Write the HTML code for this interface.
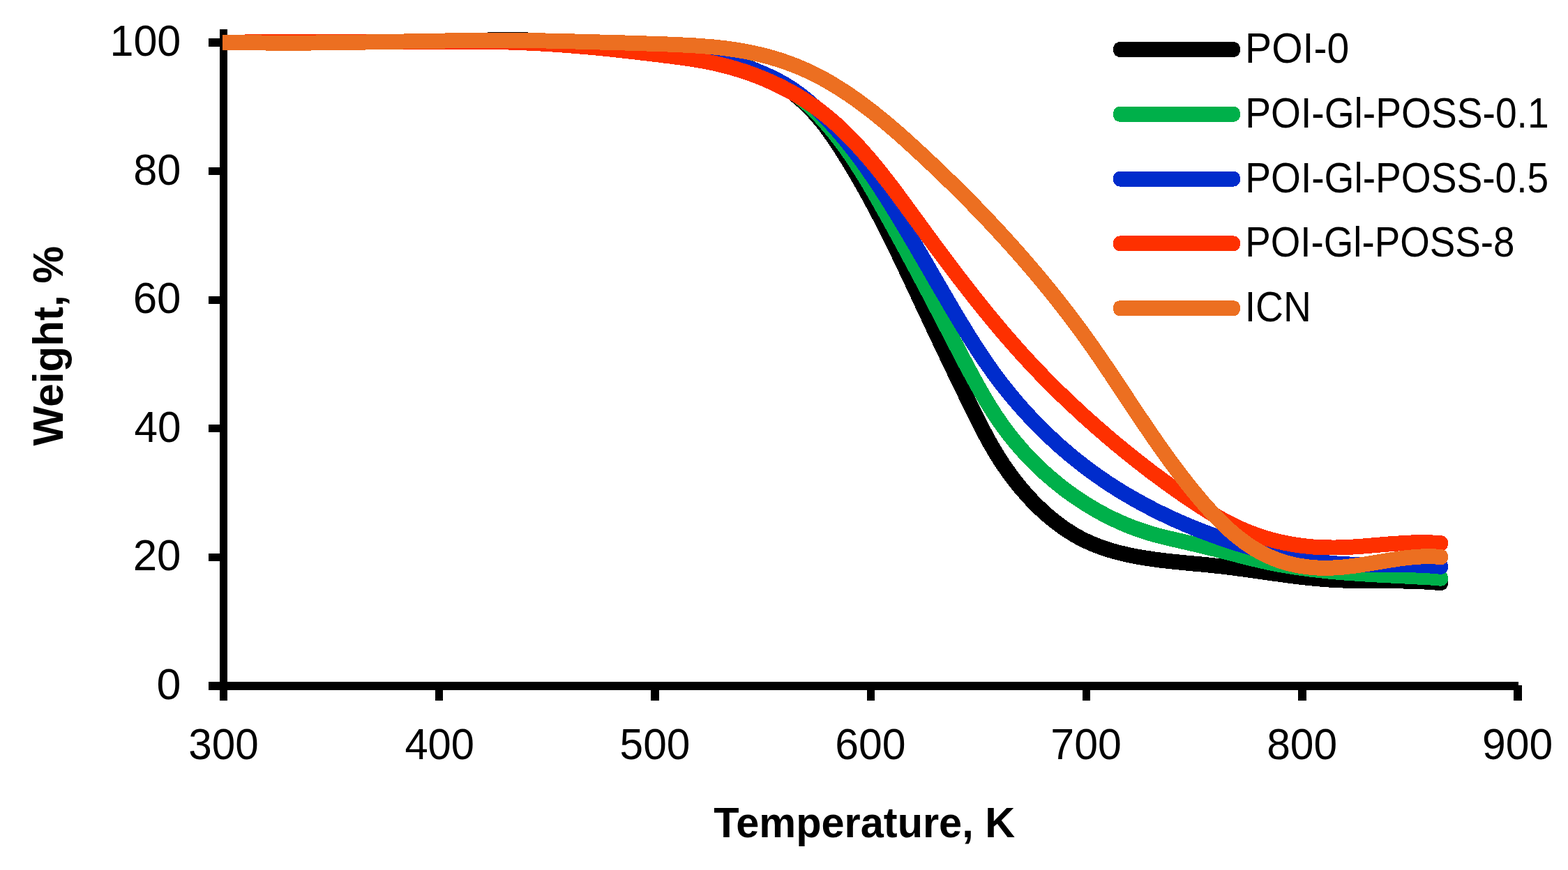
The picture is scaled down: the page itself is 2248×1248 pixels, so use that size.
<!DOCTYPE html>
<html lang="en">
<head>
<meta charset="utf-8">
<title>TGA curves</title>
<style>
html,body{margin:0;padding:0;background:#fff;}
body{width:2248px;height:1248px;overflow:hidden;}
figure{margin:0;padding:0;width:2248px;height:1248px;}
svg{display:block;}
</style>
</head>
<body>
<figure>
<svg width="2248" height="1248" viewBox="0 0 2248 1248" font-family="'Liberation Sans', sans-serif" fill="#000">
<rect width="2248" height="1248" fill="#fff"/>
<g shape-rendering="crispEdges" fill="#000">
<rect x="315" y="42" width="11" height="963"/>
<rect x="299" y="978" width="1878" height="12"/>
<rect x="299" y="794" width="21" height="11"/>
<rect x="299" y="609" width="21" height="11"/>
<rect x="299" y="425" width="21" height="11"/>
<rect x="299" y="240" width="21" height="11"/>
<rect x="299" y="55" width="21" height="12"/>
<rect x="624" y="983" width="11" height="22"/>
<rect x="933" y="983" width="12" height="22"/>
<rect x="1243" y="983" width="11" height="22"/>
<rect x="1552" y="983" width="11" height="22"/>
<rect x="1861" y="983" width="12" height="22"/>
<rect x="2170" y="983" width="12" height="22"/>
</g>
<defs><clipPath id="plot"><rect x="319" y="0" width="1929" height="984"/></clipPath></defs>
<g clip-path="url(#plot)" shape-rendering="crispEdges">
<path fill="none" stroke="#000000" stroke-width="22" stroke-linejoin="round" d="M316.0 61.0 L320.5 61.0 L332.5 60.8 L344.5 60.8 L356.5 60.8 L368.5 60.9 L380.5 60.9 L392.5 60.9 L404.5 60.9 L416.5 60.8 L428.5 60.8 L440.5 60.8 L452.5 60.7 L464.5 60.7 L476.5 60.6 L488.5 60.6 L500.5 60.5 L512.5 60.4 L524.5 60.3 L536.5 60.2 L548.5 60.1 L560.5 60.0 L572.5 59.9 L584.5 59.7 L596.5 59.6 L608.5 59.5 L620.5 59.3 L632.5 59.2 L644.5 59.1 L656.5 59.0 L668.5 59.0 L680.5 58.9 L692.5 58.2 L704.5 57.0 L716.5 56.9 L728.5 56.9 L740.5 57.0 L752.5 57.1 L764.5 58.5 L776.5 60.5 L788.5 61.0 L800.5 61.5 L812.5 62.1 L824.5 62.7 L836.5 63.4 L848.5 64.1 L860.5 64.8 L872.5 65.6 L884.5 66.4 L896.5 67.2 L908.5 68.1 L920.5 69.0 L932.5 69.9 L944.5 70.8 L956.5 71.8 L968.5 72.8 L980.5 73.9 L986.1 74.9 L992.1 75.8 L998.1 76.7 L1004.1 77.7 L1010.0 78.8 L1016.0 80.0 L1021.9 81.2 L1027.8 82.6 L1033.7 84.0 L1039.6 85.5 L1045.4 87.2 L1051.2 88.9 L1056.9 90.7 L1062.6 92.7 L1068.3 94.8 L1073.9 97.0 L1079.4 99.3 L1084.9 101.7 L1090.3 104.3 L1095.6 107.0 L1100.9 109.7 L1106.1 112.7 L1111.2 115.7 L1116.3 118.8 L1121.3 122.1 L1126.2 125.5 L1131.0 129.0 L1135.8 132.6 L1140.4 136.3 L1145.0 140.1 L1149.5 144.0 L1153.8 148.0 L1158.1 152.2 L1162.3 156.4 L1166.4 160.7 L1170.4 165.2 L1174.3 169.7 L1178.1 174.3 L1181.9 179.0 L1185.5 183.8 L1189.0 188.7 L1192.5 193.6 L1195.9 198.6 L1199.3 203.6 L1202.6 208.6 L1205.9 213.7 L1209.1 218.8 L1212.3 223.9 L1215.5 229.0 L1218.6 234.1 L1221.7 239.2 L1224.8 244.4 L1227.8 249.6 L1230.8 254.7 L1233.8 259.9 L1236.8 265.1 L1239.7 270.4 L1242.6 275.6 L1245.5 280.8 L1248.4 286.1 L1251.2 291.4 L1254.0 296.6 L1256.8 301.9 L1259.6 307.2 L1262.4 312.5 L1265.1 317.9 L1267.8 323.2 L1270.5 328.5 L1273.2 333.9 L1275.9 339.2 L1278.5 344.6 L1281.2 350.0 L1283.8 355.3 L1286.5 360.7 L1289.1 366.1 L1291.7 371.5 L1294.3 376.9 L1296.8 382.3 L1299.4 387.7 L1302.0 393.2 L1304.6 398.6 L1307.1 404.0 L1309.7 409.4 L1312.2 414.9 L1314.8 420.3 L1317.3 425.8 L1319.9 431.2 L1322.4 436.7 L1325.0 442.1 L1327.5 447.6 L1330.1 453.0 L1332.7 458.5 L1335.2 464.0 L1337.8 469.4 L1340.4 474.9 L1343.0 480.3 L1345.5 485.8 L1348.1 491.2 L1350.7 496.7 L1353.3 502.2 L1355.9 507.6 L1358.5 513.0 L1361.1 518.5 L1363.7 523.9 L1366.3 529.3 L1368.9 534.8 L1371.5 540.2 L1374.1 545.6 L1376.7 551.0 L1379.4 556.4 L1382.0 561.7 L1384.6 567.1 L1387.2 572.5 L1389.8 577.8 L1392.4 583.2 L1395.0 588.5 L1397.7 593.8 L1400.3 599.1 L1402.9 604.4 L1405.6 609.6 L1408.3 614.9 L1411.0 620.1 L1413.7 625.3 L1416.5 630.5 L1419.4 635.7 L1422.4 640.9 L1425.4 646.0 L1428.5 651.2 L1431.6 656.3 L1434.9 661.3 L1438.2 666.4 L1441.7 671.4 L1445.2 676.4 L1448.7 681.3 L1452.4 686.2 L1456.1 691.0 L1459.9 695.8 L1463.8 700.5 L1467.8 705.1 L1471.8 709.7 L1475.9 714.2 L1480.1 718.7 L1484.4 723.0 L1488.7 727.3 L1493.1 731.5 L1497.5 735.6 L1502.1 739.6 L1506.7 743.5 L1511.3 747.2 L1516.1 750.9 L1520.9 754.5 L1525.7 757.9 L1530.7 761.2 L1535.7 764.4 L1540.7 767.5 L1545.9 770.4 L1551.0 773.1 L1556.3 775.7 L1561.6 778.2 L1566.9 780.5 L1572.4 782.7 L1577.8 784.7 L1583.3 786.7 L1588.9 788.5 L1594.5 790.2 L1600.2 791.8 L1605.9 793.2 L1611.6 794.6 L1617.4 795.9 L1623.2 797.1 L1629.0 798.3 L1634.9 799.3 L1640.8 800.3 L1646.7 801.2 L1652.7 802.1 L1658.6 802.9 L1664.6 803.7 L1670.6 804.4 L1676.7 805.1 L1682.7 805.7 L1688.8 806.3 L1694.8 806.9 L1700.9 807.5 L1707.0 808.1 L1713.0 808.7 L1719.1 809.2 L1725.2 809.8 L1731.3 810.4 L1737.3 811.0 L1743.4 811.7 L1749.4 812.3 L1755.5 813.0 L1761.5 813.8 L1767.5 814.5 L1773.5 815.3 L1779.5 816.1 L1785.5 816.9 L1791.5 817.7 L1797.4 818.6 L1803.4 819.4 L1809.4 820.3 L1815.3 821.1 L1821.2 822.0 L1827.2 822.8 L1833.1 823.6 L1839.0 824.4 L1844.9 825.2 L1850.9 826.0 L1856.8 826.8 L1862.7 827.5 L1868.6 828.2 L1874.5 828.8 L1880.4 829.4 L1886.3 830.0 L1892.2 830.5 L1898.1 831.0 L1904.1 831.4 L1910.0 831.8 L1915.9 832.1 L1921.8 832.4 L1927.7 832.6 L1933.7 832.8 L1939.6 832.9 L1945.6 833.0 L1951.5 833.1 L1957.5 833.1 L1963.4 833.2 L1969.4 833.2 L1975.4 833.2 L1981.4 833.2 L1987.4 833.3 L1993.4 833.3 L1999.4 833.3 L2005.5 833.4 L2011.5 833.5 L2017.6 833.6 L2023.6 833.8 L2029.7 834.0 L2035.8 834.2 L2041.9 834.5 L2048.1 834.8 L2054.2 835.3 L2060.4 835.7 L2065.0 836.0"/>
<rect fill="#000000" x="2054.0" y="825.0" width="22" height="22" rx="9.5"/>
<path fill="none" stroke="#00B04A" stroke-width="22" stroke-linejoin="round" d="M316.0 61.0 L320.5 61.0 L332.5 60.8 L344.5 60.8 L356.5 60.8 L368.5 60.9 L380.5 60.9 L392.5 60.9 L404.5 60.9 L416.5 60.8 L428.5 60.8 L440.5 60.8 L452.5 60.7 L464.5 60.7 L476.5 60.6 L488.5 60.6 L500.5 60.5 L512.5 60.4 L524.5 60.3 L536.5 60.2 L548.5 60.1 L560.5 60.0 L572.5 59.9 L584.5 59.7 L596.5 59.6 L608.5 59.5 L620.5 59.3 L632.5 59.2 L644.5 59.1 L656.5 59.0 L668.5 59.0 L680.5 58.9 L692.5 58.9 L704.5 59.0 L716.5 59.1 L728.5 59.2 L740.5 59.4 L752.5 59.7 L764.5 60.1 L776.5 60.5 L788.5 61.0 L800.5 61.5 L812.5 62.1 L824.5 62.7 L836.5 63.4 L848.5 64.1 L860.5 64.8 L872.5 65.6 L884.5 66.4 L896.5 67.2 L908.5 68.1 L920.5 69.0 L932.5 69.9 L944.5 70.8 L956.5 71.8 L968.5 72.8 L980.5 73.9 L986.7 75.2 L992.8 76.1 L998.8 77.1 L1004.8 78.1 L1010.8 79.3 L1016.7 80.5 L1022.6 81.8 L1028.5 83.2 L1034.4 84.6 L1040.2 86.2 L1046.0 87.8 L1051.7 89.5 L1057.4 91.3 L1063.0 93.2 L1068.5 95.3 L1074.1 97.4 L1079.5 99.6 L1084.9 101.9 L1090.3 104.3 L1095.6 106.8 L1100.8 109.4 L1106.0 112.2 L1111.1 115.1 L1116.2 118.0 L1121.2 121.2 L1126.2 124.4 L1131.1 127.7 L1135.9 131.2 L1140.7 134.8 L1145.4 138.6 L1150.0 142.5 L1154.6 146.4 L1159.1 150.5 L1163.5 154.7 L1167.9 159.0 L1172.2 163.4 L1176.4 167.8 L1180.5 172.4 L1184.6 177.0 L1188.6 181.6 L1192.6 186.3 L1196.5 191.0 L1200.2 195.8 L1204.0 200.6 L1207.6 205.4 L1211.2 210.3 L1214.7 215.2 L1218.1 220.1 L1221.5 225.0 L1224.8 229.9 L1228.0 234.8 L1231.2 239.8 L1234.4 244.8 L1237.5 249.8 L1240.6 254.8 L1243.6 259.8 L1246.6 264.9 L1249.6 270.0 L1252.6 275.0 L1255.5 280.1 L1258.4 285.3 L1261.3 290.4 L1264.2 295.5 L1267.1 300.7 L1270.0 305.9 L1272.9 311.0 L1275.8 316.2 L1278.7 321.5 L1281.5 326.7 L1284.4 331.9 L1287.3 337.2 L1290.1 342.4 L1293.0 347.7 L1295.9 353.0 L1298.7 358.2 L1301.6 363.5 L1304.4 368.9 L1307.3 374.2 L1310.1 379.5 L1313.0 384.8 L1315.8 390.2 L1318.6 395.5 L1321.5 400.9 L1324.3 406.2 L1327.1 411.6 L1330.0 417.0 L1332.8 422.3 L1335.6 427.7 L1338.4 433.1 L1341.2 438.5 L1344.0 443.9 L1346.8 449.3 L1349.6 454.7 L1352.4 460.1 L1355.2 465.5 L1358.0 470.9 L1360.8 476.3 L1363.6 481.7 L1366.4 487.1 L1369.2 492.5 L1372.0 497.9 L1374.8 503.3 L1377.6 508.7 L1380.4 514.0 L1383.2 519.4 L1386.0 524.7 L1388.9 530.0 L1391.7 535.3 L1394.6 540.5 L1397.4 545.8 L1400.3 551.0 L1403.2 556.2 L1406.1 561.4 L1409.1 566.6 L1412.1 571.7 L1415.1 576.8 L1418.2 581.8 L1421.4 586.9 L1424.5 591.8 L1427.8 596.8 L1431.1 601.7 L1434.4 606.6 L1437.9 611.4 L1441.4 616.2 L1445.0 621.0 L1448.6 625.7 L1452.3 630.3 L1456.1 635.0 L1460.0 639.5 L1463.9 644.0 L1467.9 648.5 L1472.0 652.9 L1476.1 657.3 L1480.3 661.6 L1484.6 665.8 L1488.9 670.0 L1493.3 674.1 L1497.7 678.2 L1502.2 682.2 L1506.8 686.1 L1511.4 690.0 L1516.0 693.8 L1520.7 697.6 L1525.5 701.3 L1530.3 704.9 L1535.2 708.4 L1540.1 711.9 L1545.0 715.3 L1550.0 718.6 L1555.1 721.9 L1560.2 725.0 L1565.3 728.1 L1570.5 731.2 L1575.7 734.1 L1580.9 737.0 L1586.2 739.7 L1591.6 742.4 L1596.9 745.0 L1602.3 747.5 L1607.8 750.0 L1613.2 752.3 L1618.7 754.6 L1624.2 756.7 L1629.8 758.8 L1635.4 760.7 L1641.0 762.6 L1646.6 764.4 L1652.3 766.1 L1658.0 767.7 L1663.7 769.2 L1669.4 770.6 L1675.1 772.0 L1680.9 773.4 L1686.7 774.7 L1692.4 776.0 L1698.3 777.4 L1704.1 778.7 L1709.9 780.1 L1715.8 781.4 L1721.6 782.8 L1727.5 784.2 L1733.4 785.7 L1739.3 787.1 L1745.2 788.6 L1751.1 790.1 L1757.0 791.6 L1763.0 793.2 L1768.9 794.7 L1774.8 796.2 L1780.7 797.8 L1786.7 799.3 L1792.6 800.8 L1798.5 802.2 L1804.5 803.6 L1810.4 805.0 L1816.3 806.3 L1822.2 807.5 L1828.2 808.7 L1834.1 809.8 L1840.0 810.9 L1845.9 811.9 L1851.8 812.8 L1857.7 813.8 L1863.6 814.6 L1869.5 815.4 L1875.4 816.2 L1881.3 817.0 L1887.2 817.6 L1893.1 818.3 L1899.0 818.9 L1904.9 819.5 L1910.9 820.1 L1916.8 820.6 L1922.7 821.1 L1928.6 821.6 L1934.5 822.0 L1940.5 822.4 L1946.4 822.8 L1952.3 823.2 L1958.3 823.6 L1964.2 823.9 L1970.2 824.3 L1976.2 824.6 L1982.1 824.9 L1988.1 825.2 L1994.1 825.5 L2000.1 825.8 L2006.1 826.1 L2012.1 826.4 L2018.2 826.7 L2024.2 827.0 L2030.2 827.4 L2036.3 827.7 L2042.4 828.0 L2048.4 828.3 L2054.5 828.7 L2060.6 829.1 L2065.0 829.6"/>
<rect fill="#00B04A" x="2054.0" y="818.6" width="22" height="22" rx="9.5"/>
<path fill="none" stroke="#002CCC" stroke-width="22" stroke-linejoin="round" d="M316.0 61.0 L320.5 61.0 L332.5 60.8 L344.5 60.8 L356.5 60.8 L368.5 60.9 L380.5 60.9 L392.5 60.9 L404.5 60.9 L416.5 60.8 L428.5 60.8 L440.5 60.8 L452.5 60.7 L464.5 60.7 L476.5 60.6 L488.5 60.6 L500.5 60.5 L512.5 60.4 L524.5 60.3 L536.5 60.2 L548.5 60.1 L560.5 60.0 L572.5 59.9 L584.5 59.7 L596.5 59.6 L608.5 59.5 L620.5 59.3 L632.5 59.2 L644.5 59.1 L656.5 59.0 L668.5 59.0 L680.5 58.9 L692.5 58.9 L704.5 59.0 L716.5 59.1 L728.5 59.2 L740.5 59.4 L752.5 59.7 L764.5 60.1 L776.5 60.5 L788.5 61.0 L800.5 61.5 L812.5 62.1 L824.5 62.7 L836.5 63.4 L848.5 64.1 L860.5 64.8 L872.5 65.6 L884.5 66.4 L896.5 67.2 L908.5 68.1 L920.5 69.0 L932.5 69.9 L944.5 70.8 L956.5 71.8 L968.5 72.8 L980.5 73.9 L986.2 76.1 L992.2 77.1 L998.2 78.2 L1004.1 79.4 L1010.1 80.6 L1016.0 81.8 L1021.9 83.1 L1027.8 84.4 L1033.6 85.8 L1039.4 87.3 L1045.2 88.8 L1051.0 90.4 L1056.7 92.1 L1062.4 93.9 L1068.1 95.7 L1073.7 97.6 L1079.3 99.6 L1084.8 101.7 L1090.3 103.9 L1095.7 106.2 L1101.1 108.6 L1106.4 111.1 L1111.7 113.7 L1116.9 116.5 L1122.1 119.3 L1127.2 122.3 L1132.2 125.5 L1137.1 128.7 L1142.0 132.1 L1146.8 135.6 L1151.6 139.3 L1156.3 143.1 L1160.9 147.0 L1165.4 150.9 L1169.9 155.0 L1174.3 159.2 L1178.7 163.5 L1183.0 167.8 L1187.2 172.2 L1191.3 176.6 L1195.4 181.1 L1199.5 185.7 L1203.4 190.2 L1207.4 194.8 L1211.2 199.5 L1215.0 204.1 L1218.8 208.8 L1222.5 213.5 L1226.2 218.3 L1229.8 223.1 L1233.4 227.9 L1236.9 232.7 L1240.4 237.5 L1243.8 242.4 L1247.2 247.3 L1250.6 252.2 L1254.0 257.2 L1257.3 262.1 L1260.6 267.1 L1263.8 272.1 L1267.0 277.1 L1270.3 282.2 L1273.5 287.2 L1276.6 292.3 L1279.8 297.4 L1282.9 302.5 L1286.1 307.6 L1289.2 312.7 L1292.3 317.9 L1295.4 323.0 L1298.5 328.2 L1301.5 333.4 L1304.6 338.6 L1307.6 343.7 L1310.7 348.9 L1313.7 354.1 L1316.8 359.4 L1319.8 364.6 L1322.8 369.8 L1325.8 375.0 L1328.9 380.2 L1331.9 385.4 L1334.9 390.7 L1337.9 395.9 L1340.9 401.1 L1344.0 406.3 L1347.0 411.5 L1350.0 416.7 L1353.0 421.9 L1356.1 427.1 L1359.1 432.3 L1362.1 437.5 L1365.2 442.7 L1368.2 447.8 L1371.3 453.0 L1374.4 458.1 L1377.5 463.2 L1380.6 468.3 L1383.7 473.4 L1386.8 478.5 L1389.9 483.6 L1393.1 488.6 L1396.3 493.7 L1399.5 498.7 L1402.8 503.7 L1406.1 508.6 L1409.4 513.6 L1412.7 518.5 L1416.1 523.4 L1419.6 528.3 L1423.0 533.2 L1426.6 538.0 L1430.1 542.8 L1433.7 547.6 L1437.4 552.3 L1441.1 557.0 L1444.9 561.7 L1448.7 566.4 L1452.5 571.0 L1456.4 575.6 L1460.3 580.2 L1464.3 584.7 L1468.3 589.2 L1472.4 593.6 L1476.5 598.1 L1480.6 602.4 L1484.8 606.8 L1489.0 611.1 L1493.2 615.4 L1497.5 619.6 L1501.9 623.8 L1506.3 627.9 L1510.7 632.0 L1515.1 636.1 L1519.6 640.1 L1524.1 644.1 L1528.7 648.0 L1533.3 651.9 L1537.9 655.7 L1542.6 659.5 L1547.3 663.2 L1552.0 666.9 L1556.7 670.6 L1561.5 674.2 L1566.4 677.7 L1571.2 681.2 L1576.1 684.6 L1581.0 688.0 L1586.0 691.4 L1591.0 694.7 L1596.0 697.9 L1601.0 701.1 L1606.1 704.3 L1611.2 707.4 L1616.3 710.4 L1621.5 713.4 L1626.7 716.4 L1631.9 719.3 L1637.1 722.2 L1642.4 725.0 L1647.7 727.8 L1653.0 730.6 L1658.3 733.3 L1663.7 735.9 L1669.1 738.5 L1674.5 741.1 L1679.9 743.6 L1685.3 746.1 L1690.8 748.5 L1696.3 750.9 L1701.8 753.3 L1707.4 755.6 L1712.9 757.9 L1718.5 760.1 L1724.1 762.3 L1729.7 764.4 L1735.3 766.5 L1741.0 768.6 L1746.6 770.6 L1752.3 772.6 L1758.0 774.6 L1763.7 776.5 L1769.5 778.4 L1775.2 780.2 L1781.0 782.0 L1786.8 783.7 L1792.5 785.4 L1798.3 787.0 L1804.2 788.6 L1810.0 790.2 L1815.8 791.7 L1821.7 793.1 L1827.5 794.5 L1833.4 795.8 L1839.3 797.1 L1845.2 798.3 L1851.1 799.5 L1857.0 800.6 L1862.9 801.7 L1868.8 802.7 L1874.8 803.6 L1880.7 804.5 L1886.7 805.3 L1892.6 806.1 L1898.6 806.8 L1904.5 807.4 L1910.5 808.0 L1916.5 808.5 L1922.5 808.9 L1928.4 809.2 L1934.4 809.5 L1940.4 809.7 L1946.4 809.9 L1952.4 810.0 L1958.4 810.1 L1964.4 810.1 L1970.4 810.1 L1976.4 810.1 L1982.4 810.1 L1988.3 810.1 L1994.3 810.1 L2000.3 810.1 L2006.3 810.1 L2012.3 810.1 L2018.3 810.2 L2024.2 810.3 L2030.2 810.5 L2036.2 810.7 L2042.2 811.0 L2048.1 811.3 L2054.1 811.8 L2060.0 812.3 L2065.0 812.8"/>
<rect fill="#002CCC" x="2054.0" y="801.8" width="22" height="22" rx="9.5"/>
<path fill="none" stroke="#FE3000" stroke-width="22" stroke-linejoin="round" d="M316.0 61.0 L320.5 61.0 L327.2 60.8 L333.1 60.8 L338.9 60.7 L344.8 60.6 L350.7 60.5 L356.6 60.4 L362.5 60.4 L368.4 60.3 L374.3 60.3 L380.2 60.2 L386.1 60.2 L392.1 60.1 L398.0 60.1 L403.9 60.1 L409.9 60.1 L415.8 60.0 L421.8 60.0 L427.7 60.0 L433.7 60.0 L439.6 60.0 L445.6 60.0 L451.6 60.0 L457.6 60.0 L463.5 60.0 L469.5 60.0 L475.5 60.0 L481.5 60.0 L487.5 60.0 L493.5 60.1 L499.5 60.1 L505.5 60.1 L511.5 60.1 L517.5 60.1 L523.6 60.1 L529.6 60.1 L535.6 60.1 L541.6 60.1 L547.6 60.1 L553.7 60.1 L559.7 60.1 L565.7 60.1 L571.8 60.1 L577.8 60.1 L583.8 60.1 L589.9 60.1 L595.9 60.1 L602.0 60.0 L608.0 60.0 L614.0 60.0 L620.1 59.9 L626.1 59.9 L632.2 59.9 L638.2 59.9 L644.3 59.8 L650.3 59.8 L656.4 59.8 L662.4 59.8 L668.5 59.8 L674.5 59.8 L680.6 59.8 L686.6 59.9 L692.6 59.9 L698.7 60.0 L704.7 60.0 L710.8 60.1 L716.8 60.3 L722.9 60.4 L728.9 60.5 L734.9 60.7 L741.0 60.9 L747.0 61.2 L753.0 61.4 L759.1 61.7 L765.1 62.0 L771.1 62.3 L777.1 62.6 L783.2 63.0 L789.2 63.3 L795.2 63.7 L801.2 64.1 L807.2 64.6 L813.2 65.0 L819.2 65.5 L825.2 66.0 L831.2 66.5 L837.2 67.0 L843.2 67.5 L849.2 68.1 L855.2 68.6 L861.2 69.2 L867.2 69.8 L873.1 70.4 L879.1 71.0 L885.1 71.7 L891.0 72.3 L897.0 73.0 L902.9 73.6 L908.9 74.3 L914.8 75.0 L920.7 75.7 L926.7 76.4 L932.6 77.1 L938.5 77.8 L944.4 78.5 L950.3 79.3 L956.2 80.0 L962.1 80.7 L968.0 81.5 L973.9 82.3 L979.8 83.1 L985.6 83.9 L991.5 84.8 L997.3 85.7 L1003.2 86.7 L1009.0 87.7 L1014.9 88.8 L1020.7 90.0 L1026.5 91.3 L1032.3 92.7 L1038.1 94.1 L1043.9 95.6 L1049.6 97.2 L1055.4 98.9 L1061.1 100.7 L1066.8 102.5 L1072.4 104.4 L1078.1 106.4 L1083.7 108.5 L1089.2 110.7 L1094.8 112.9 L1100.3 115.3 L1105.8 117.7 L1111.2 120.2 L1116.6 122.8 L1121.9 125.4 L1127.2 128.2 L1132.5 131.0 L1137.7 133.9 L1142.8 136.9 L1147.9 140.0 L1152.9 143.1 L1157.9 146.4 L1162.8 149.7 L1167.7 153.1 L1172.5 156.6 L1177.2 160.2 L1181.9 163.9 L1186.5 167.6 L1191.1 171.5 L1195.6 175.4 L1200.0 179.3 L1204.4 183.4 L1208.7 187.5 L1213.0 191.7 L1217.2 195.9 L1221.4 200.2 L1225.6 204.5 L1229.7 208.9 L1233.7 213.4 L1237.7 217.9 L1241.7 222.4 L1245.7 227.0 L1249.6 231.6 L1253.4 236.3 L1257.3 241.0 L1261.1 245.7 L1264.9 250.5 L1268.6 255.3 L1272.4 260.1 L1276.1 264.9 L1279.8 269.8 L1283.4 274.7 L1287.1 279.5 L1290.7 284.5 L1294.3 289.4 L1297.9 294.3 L1301.5 299.2 L1305.1 304.1 L1308.7 309.1 L1312.3 314.0 L1315.9 318.9 L1319.4 323.8 L1323.0 328.7 L1326.6 333.6 L1330.2 338.5 L1333.7 343.4 L1337.3 348.2 L1340.9 353.1 L1344.5 357.9 L1348.0 362.8 L1351.6 367.6 L1355.2 372.4 L1358.8 377.2 L1362.4 382.0 L1366.0 386.7 L1369.6 391.5 L1373.3 396.3 L1376.9 401.0 L1380.5 405.7 L1384.2 410.4 L1387.8 415.1 L1391.5 419.8 L1395.2 424.5 L1398.9 429.2 L1402.6 433.8 L1406.3 438.5 L1410.0 443.1 L1413.7 447.7 L1417.5 452.3 L1421.3 456.9 L1425.1 461.5 L1428.9 466.0 L1432.7 470.6 L1436.5 475.1 L1440.4 479.6 L1444.2 484.1 L1448.1 488.6 L1452.0 493.0 L1456.0 497.5 L1459.9 501.9 L1463.9 506.4 L1467.9 510.8 L1471.9 515.1 L1475.9 519.5 L1480.0 523.9 L1484.1 528.2 L1488.2 532.5 L1492.3 536.8 L1496.5 541.1 L1500.7 545.4 L1504.9 549.7 L1509.1 553.9 L1513.4 558.1 L1517.7 562.3 L1522.0 566.5 L1526.3 570.7 L1530.6 574.8 L1535.0 578.9 L1539.4 583.0 L1543.8 587.1 L1548.2 591.2 L1552.6 595.3 L1557.0 599.3 L1561.5 603.3 L1566.0 607.3 L1570.5 611.3 L1575.0 615.2 L1579.5 619.1 L1584.0 623.1 L1588.6 627.0 L1593.1 630.8 L1597.7 634.7 L1602.3 638.5 L1606.9 642.3 L1611.6 646.1 L1616.2 649.9 L1620.9 653.7 L1625.6 657.4 L1630.3 661.1 L1635.0 664.8 L1639.7 668.5 L1644.5 672.1 L1649.2 675.8 L1654.0 679.4 L1658.9 683.0 L1663.7 686.6 L1668.6 690.2 L1673.5 693.7 L1678.4 697.2 L1683.3 700.8 L1688.3 704.2 L1693.2 707.7 L1698.2 711.2 L1703.3 714.6 L1708.3 718.0 L1713.4 721.4 L1718.5 724.8 L1723.7 728.1 L1728.8 731.3 L1734.0 734.6 L1739.2 737.7 L1744.5 740.8 L1749.7 743.8 L1755.0 746.7 L1760.4 749.6 L1765.7 752.3 L1771.1 755.0 L1776.6 757.5 L1782.0 759.9 L1787.5 762.2 L1793.0 764.4 L1798.6 766.5 L1804.2 768.5 L1809.8 770.4 L1815.4 772.1 L1821.1 773.8 L1826.7 775.3 L1832.4 776.7 L1838.2 778.0 L1843.9 779.2 L1849.7 780.3 L1855.5 781.3 L1861.3 782.2 L1867.2 782.9 L1873.0 783.6 L1878.9 784.2 L1884.8 784.7 L1890.7 785.0 L1896.7 785.3 L1902.6 785.4 L1908.6 785.5 L1914.5 785.5 L1920.5 785.4 L1926.5 785.2 L1932.5 784.9 L1938.5 784.6 L1944.6 784.2 L1950.6 783.8 L1956.6 783.3 L1962.7 782.8 L1968.7 782.3 L1974.8 781.8 L1980.8 781.3 L1986.9 780.8 L1993.0 780.3 L1999.0 779.9 L2005.1 779.5 L2011.1 779.1 L2017.2 778.8 L2023.3 778.5 L2029.3 778.4 L2035.4 778.3 L2041.4 778.2 L2047.5 778.3 L2053.5 778.5 L2059.5 778.8 L2065.0 779.3"/>
<rect fill="#FE3000" x="2054.0" y="768.3" width="22" height="22" rx="9.5"/>
<path fill="none" stroke="#EC6F21" stroke-width="22" stroke-linejoin="round" d="M316.0 60.9 L320.5 60.9 L326.2 60.6 L332.3 60.8 L338.3 60.9 L344.4 61.0 L350.4 61.1 L356.5 61.2 L362.5 61.3 L368.6 61.4 L374.6 61.5 L380.7 61.5 L386.7 61.6 L392.7 61.6 L398.8 61.6 L404.8 61.7 L410.8 61.7 L416.8 61.7 L422.9 61.6 L428.9 61.6 L434.9 61.6 L440.9 61.6 L446.9 61.5 L452.9 61.5 L458.9 61.4 L465.0 61.4 L471.0 61.3 L477.0 61.2 L483.0 61.1 L489.0 61.1 L495.0 61.0 L501.0 60.9 L506.9 60.8 L512.9 60.7 L518.9 60.6 L524.9 60.5 L530.9 60.4 L536.9 60.3 L542.9 60.2 L548.9 60.0 L554.8 59.9 L560.8 59.8 L566.8 59.7 L572.8 59.6 L578.8 59.5 L584.8 59.4 L590.7 59.3 L596.7 59.2 L602.7 59.1 L608.7 58.9 L614.6 58.8 L620.6 58.7 L626.6 58.7 L632.6 58.6 L638.5 58.5 L644.5 58.4 L650.5 58.3 L656.5 58.2 L662.4 58.2 L668.4 58.1 L674.4 58.1 L680.4 58.0 L686.4 58.0 L692.3 57.9 L698.3 57.9 L704.3 57.9 L710.3 57.9 L716.2 57.9 L722.2 57.9 L728.2 57.9 L734.2 57.9 L740.2 57.9 L746.1 58.0 L752.1 58.1 L758.1 58.1 L764.1 58.2 L770.1 58.3 L776.1 58.4 L782.0 58.5 L788.0 58.6 L794.0 58.7 L800.0 58.9 L806.0 59.0 L812.0 59.2 L818.0 59.3 L824.0 59.5 L830.0 59.6 L836.0 59.8 L842.0 60.0 L848.0 60.1 L854.0 60.3 L860.0 60.5 L866.0 60.7 L872.1 60.8 L878.1 61.0 L884.1 61.2 L890.1 61.4 L896.1 61.5 L902.2 61.7 L908.2 61.9 L914.2 62.1 L920.2 62.3 L926.3 62.5 L932.3 62.6 L938.4 62.8 L944.4 63.1 L950.4 63.3 L956.5 63.5 L962.5 63.7 L968.6 64.0 L974.7 64.3 L980.7 64.6 L986.8 64.9 L992.8 65.2 L998.9 65.6 L1004.9 66.0 L1010.9 66.5 L1017.0 67.0 L1023.0 67.5 L1029.0 68.1 L1035.0 68.8 L1040.9 69.5 L1046.9 70.3 L1052.8 71.2 L1058.8 72.1 L1064.7 73.1 L1070.5 74.2 L1076.4 75.4 L1082.2 76.6 L1088.0 77.9 L1093.8 79.3 L1099.6 80.8 L1105.3 82.4 L1111.0 84.1 L1116.6 85.8 L1122.3 87.7 L1127.9 89.6 L1133.4 91.6 L1138.9 93.7 L1144.4 95.9 L1149.8 98.2 L1155.2 100.6 L1160.6 103.1 L1165.9 105.7 L1171.2 108.3 L1176.4 111.0 L1181.6 113.8 L1186.8 116.7 L1191.9 119.7 L1197.0 122.8 L1202.0 125.9 L1207.0 129.1 L1212.0 132.3 L1217.0 135.6 L1221.9 139.0 L1226.8 142.4 L1231.6 145.9 L1236.5 149.5 L1241.3 153.1 L1246.0 156.7 L1250.8 160.4 L1255.5 164.2 L1260.2 168.0 L1264.9 171.8 L1269.6 175.6 L1274.2 179.5 L1278.8 183.5 L1283.4 187.4 L1288.0 191.4 L1292.5 195.5 L1297.1 199.5 L1301.6 203.6 L1306.1 207.7 L1310.6 211.8 L1315.0 215.9 L1319.5 220.0 L1323.9 224.1 L1328.4 228.3 L1332.8 232.4 L1337.2 236.6 L1341.6 240.8 L1346.0 245.0 L1350.4 249.2 L1354.7 253.4 L1359.0 257.6 L1363.4 261.8 L1367.7 266.1 L1372.0 270.3 L1376.3 274.6 L1380.5 278.8 L1384.8 283.1 L1389.0 287.4 L1393.3 291.7 L1397.5 296.0 L1401.7 300.3 L1405.9 304.7 L1410.0 309.0 L1414.2 313.4 L1418.3 317.7 L1422.4 322.1 L1426.5 326.5 L1430.6 330.9 L1434.7 335.3 L1438.8 339.8 L1442.8 344.2 L1446.8 348.6 L1450.8 353.1 L1454.8 357.6 L1458.8 362.1 L1462.8 366.5 L1466.7 371.1 L1470.6 375.6 L1474.5 380.1 L1478.4 384.7 L1482.3 389.2 L1486.1 393.8 L1490.0 398.4 L1493.8 403.0 L1497.6 407.6 L1501.4 412.2 L1505.1 416.8 L1508.9 421.5 L1512.6 426.1 L1516.3 430.8 L1520.0 435.5 L1523.6 440.2 L1527.3 444.9 L1530.9 449.6 L1534.5 454.3 L1538.1 459.1 L1541.7 463.9 L1545.2 468.6 L1548.8 473.4 L1552.3 478.2 L1555.8 483.1 L1559.2 487.9 L1562.7 492.7 L1566.1 497.6 L1569.5 502.5 L1572.9 507.4 L1576.3 512.3 L1579.6 517.2 L1583.0 522.1 L1586.3 527.0 L1589.7 532.0 L1593.0 536.9 L1596.3 541.9 L1599.6 546.8 L1602.9 551.8 L1606.2 556.8 L1609.5 561.7 L1612.8 566.7 L1616.1 571.7 L1619.4 576.7 L1622.7 581.6 L1626.0 586.6 L1629.3 591.6 L1632.7 596.6 L1636.0 601.6 L1639.4 606.6 L1642.7 611.5 L1646.1 616.5 L1649.5 621.5 L1652.9 626.4 L1656.3 631.4 L1659.8 636.3 L1663.2 641.3 L1666.7 646.2 L1670.2 651.1 L1673.8 656.1 L1677.3 661.0 L1680.9 665.9 L1684.5 670.7 L1688.2 675.6 L1691.9 680.5 L1695.6 685.3 L1699.3 690.1 L1703.1 695.0 L1706.9 699.8 L1710.8 704.5 L1714.7 709.3 L1718.7 714.0 L1722.6 718.8 L1726.7 723.4 L1730.8 728.0 L1734.9 732.6 L1739.1 737.1 L1743.3 741.6 L1747.6 745.9 L1751.9 750.2 L1756.3 754.4 L1760.7 758.5 L1765.2 762.6 L1769.8 766.5 L1774.4 770.3 L1779.1 773.9 L1783.8 777.5 L1788.6 780.9 L1793.5 784.1 L1798.4 787.3 L1803.4 790.2 L1808.5 793.0 L1813.7 795.7 L1818.9 798.1 L1824.2 800.4 L1829.5 802.5 L1834.9 804.4 L1840.4 806.2 L1845.9 807.8 L1851.5 809.2 L1857.2 810.5 L1862.9 811.6 L1868.6 812.5 L1874.4 813.3 L1880.2 813.9 L1886.1 814.4 L1892.0 814.7 L1897.9 814.8 L1903.9 814.8 L1909.9 814.6 L1915.9 814.3 L1922.0 813.9 L1928.1 813.3 L1934.1 812.6 L1940.2 811.9 L1946.4 811.0 L1952.5 810.1 L1958.6 809.2 L1964.7 808.2 L1970.8 807.2 L1976.9 806.2 L1983.0 805.2 L1989.1 804.2 L1995.2 803.2 L2001.3 802.3 L2007.3 801.4 L2013.3 800.6 L2019.3 799.9 L2025.3 799.3 L2031.2 798.8 L2037.1 798.5 L2042.9 798.3 L2048.7 798.2 L2054.4 798.3 L2060.1 798.6 L2065.0 799.1"/>
<rect fill="#EC6F21" x="2054.0" y="788.1" width="22" height="22" rx="9.5"/>
</g>
<g shape-rendering="crispEdges">
<rect x="1596" y="60.0" width="182" height="22" rx="9.5" fill="#000000"/>
<rect x="1596" y="152.8" width="182" height="22" rx="9.5" fill="#00B04A"/>
<rect x="1596" y="245.6" width="182" height="22" rx="9.5" fill="#002CCC"/>
<rect x="1596" y="338.4" width="182" height="22" rx="9.5" fill="#FE3000"/>
<rect x="1596" y="431.2" width="182" height="22" rx="9.5" fill="#EC6F21"/>
</g>
<text transform="translate(1785.09 89.90) scale(0.9386 1)" font-size="60.80">POI-0</text>
<text transform="translate(1785.25 182.70) scale(0.9078 1)" font-size="60.80">POI-Gl-POSS-0.1</text>
<text transform="translate(1785.25 275.50) scale(0.9069 1)" font-size="60.80">POI-Gl-POSS-0.5</text>
<text transform="translate(1785.29 368.30) scale(0.9000 1)" font-size="60.80">POI-Gl-POSS-8</text>
<text transform="translate(1784.69 461.10) scale(0.9087 1)" font-size="60.80">ICN</text>
<text transform="translate(224.49 1003.08) scale(1.0102 1)" font-size="62.19">0</text>
<text transform="translate(190.66 818.48) scale(0.9947 1)" font-size="62.19">20</text>
<text transform="translate(192.39 633.88) scale(0.9686 1)" font-size="62.19">40</text>
<text transform="translate(190.66 449.28) scale(0.9947 1)" font-size="62.19">60</text>
<text transform="translate(191.14 264.68) scale(0.9874 1)" font-size="62.19">80</text>
<text transform="translate(157.42 80.08) scale(0.9824 1)" font-size="62.19">100</text>
<text transform="translate(270.24 1089.38) scale(0.9693 1)" font-size="62.19">300</text>
<text transform="translate(580.41 1089.38) scale(0.9603 1)" font-size="62.19">400</text>
<text transform="translate(888.58 1089.38) scale(0.9708 1)" font-size="62.19">500</text>
<text transform="translate(1197.21 1089.38) scale(0.9770 1)" font-size="62.19">600</text>
<text transform="translate(1506.31 1089.38) scale(0.9785 1)" font-size="62.19">700</text>
<text transform="translate(1816.18 1089.38) scale(0.9724 1)" font-size="62.19">800</text>
<text transform="translate(2125.12 1089.38) scale(0.9754 1)" font-size="62.19">900</text>
<text transform="translate(1023.31 1201.00) scale(0.9714 1)" font-size="61.24" font-weight="bold">Temperature, K</text>
<text transform="translate(90.00 639.55) rotate(-90) scale(0.9790 1)" font-size="61.53" font-weight="bold">Weight, %</text>
</svg>
</figure>
</body>
</html>
